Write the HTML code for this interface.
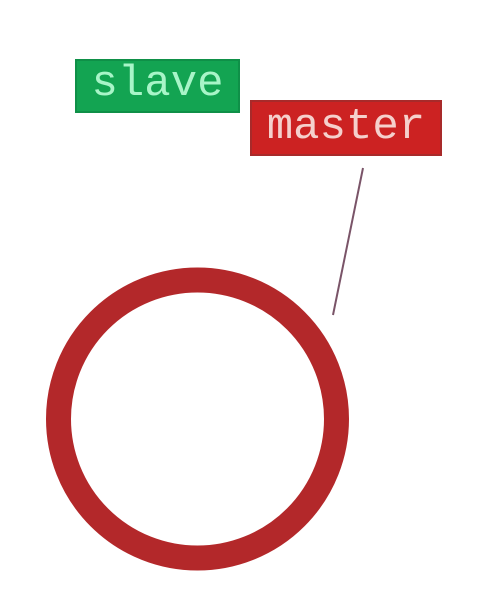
<!DOCTYPE html>
<html><head><meta charset="utf-8"><style>
html,body{margin:0;padding:0;background:#fff;width:480px;height:602px;overflow:hidden}
.lbl{position:absolute;box-sizing:border-box;font-family:"Liberation Mono",monospace;font-size:44px;line-height:1;display:flex;align-items:center;justify-content:center}
</style></head><body>
<svg width="480" height="602" style="position:absolute;left:0;top:0">
<line x1="363" y1="168" x2="333" y2="315" stroke="#7a5468" stroke-width="2"/>
<circle cx="197.5" cy="419" r="139" fill="none" stroke="#b3282a" stroke-width="25"/>
</svg>
<div class="lbl" style="left:75px;top:59px;width:165px;height:54px;background:#13a452;border:2px solid #0f9048;color:#a8f5c8;padding-bottom:4px">slave</div>
<div class="lbl" style="left:250px;top:100px;width:192px;height:56px;background:#cc2222;border:2px solid #a82a2a;color:#f5d0cc;padding-bottom:2px">master</div>
</body></html>
